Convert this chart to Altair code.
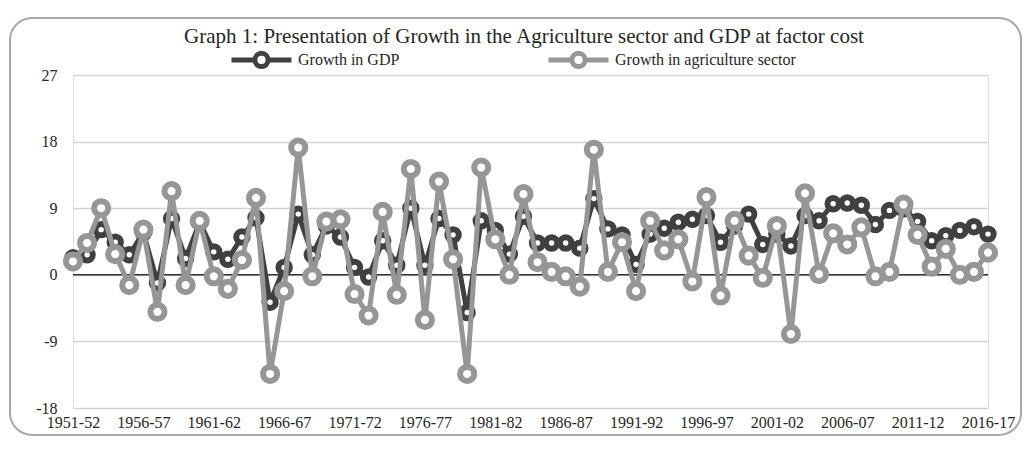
import altair as alt
import pandas as pd

# Category labels (fiscal years)
start_years = list(range(1951, 2017))
years = [f"{y}-{str(y + 1)[-2:]}" for y in start_years]
tick_labels = years[::5]

# Growth rates (%)
gdp = [2.3, 2.7, 6.1, 4.4, 2.7, 5.7, -1.1, 7.6, 2.2, 7.1,
       3.1, 2.1, 5.1, 7.7, -3.7, 1.0, 8.2, 2.7, 6.6, 5.1,
       1.0, -0.3, 4.6, 1.3, 9.0, 1.3, 7.6, 5.4, -5.1, 7.3,
       6.0, 2.8, 7.9, 4.3, 4.3, 4.3, 3.6, 10.3, 6.2, 5.4,
       1.4, 5.5, 6.3, 7.1, 7.5, 8.0, 4.4, 6.6, 8.2, 4.1,
       5.5, 3.9, 8.0, 7.3, 9.6, 9.7, 9.4, 6.8, 8.7, 8.9,
       7.2, 4.6, 5.3, 6.0, 6.5, 5.5]
agri = [1.8, 4.3, 9.0, 2.8, -1.4, 6.1, -5.0, 11.3, -1.4, 7.3,
        -0.2, -1.9, 2.0, 10.4, -13.4, -2.2, 17.2, -0.2, 7.2, 7.5,
        -2.6, -5.5, 8.5, -2.7, 14.3, -6.1, 12.6, 2.1, -13.4, 14.5,
        4.8, 0.0, 10.9, 1.7, 0.4, -0.2, -1.6, 16.9, 0.4, 4.4,
        -2.2, 7.3, 3.3, 4.8, -0.9, 10.5, -2.8, 7.3, 2.6, -0.4,
        6.6, -8.0, 11.0, 0.1, 5.6, 4.1, 6.4, -0.2, 0.4, 9.5,
        5.4, 1.1, 3.5, 0.0, 0.4, 3.0]

series_names = ["Growth in GDP", "Growth in agriculture sector"]
series_colors = ["#404040", "#969696"]
y_ticks = [-18, -9, 0, 9, 18, 27]
title_text = "Graph 1: Presentation of Growth in the Agriculture sector and GDP at factor cost"

FONT = "Liberation Serif"
TXT = "#262626"

df = pd.DataFrame({
    "year": years * 2,
    "series": [series_names[0]] * len(gdp) + [series_names[1]] * len(agri),
    "value": gdp + agri,
})

W, H = 915, 333

legend_path = ("M-1,0H-0.22 M0.22,0H1 "
               "M0.22,0A0.22,0.22 0 1,1 -0.22,0A0.22,0.22 0 1,1 0.22,0Z")

x_enc = alt.X("year:O",
              scale=alt.Scale(type="point", domain=years, padding=0),
              axis=alt.Axis(values=tick_labels, labelAngle=0, domain=False, ticks=False,
                            grid=False, title=None, labelFont=FONT, labelFontSize=16,
                            labelColor=TXT, labelPadding=6, labelOverlap=False))
y_enc = alt.Y("value:Q",
              scale=alt.Scale(domain=[-18, 27], nice=False, zero=False),
              axis=alt.Axis(values=y_ticks, domain=False, ticks=False, grid=True,
                            gridColor="#d4d4d4", gridWidth=1.3, title=None,
                            labelExpr="datum.value + ''",
                            labelFont=FONT, labelFontSize=16, labelColor=TXT,
                            labelPadding=16))
color_enc = alt.Color("series:N",
                      scale=alt.Scale(domain=series_names, range=series_colors),
                      legend=alt.Legend(title=None, orient="none", legendX=156, legendY=-48,
                                        direction="horizontal", symbolType=legend_path,
                                        symbolSize=3600, symbolStrokeWidth=5,
                                        symbolFillColor="white", labelFont=FONT,
                                        labelFontSize=16, labelColor=TXT, labelLimit=400,
                                        columnPadding=138, padding=0, labelOffset=4))

base = alt.Chart(df)

def series_layers(name, size):
    sub = base.transform_filter(alt.datum.series == name)
    line = sub.mark_line(strokeWidth=5).encode(x=x_enc, y=y_enc, color=color_enc)
    pts = sub.mark_point(filled=False, fill="white", fillOpacity=1, opacity=1,
                         size=size, strokeWidth=6, shape="circle").encode(
        x=x_enc, y=y_enc, color=color_enc)
    return [line, pts]

zero_rule = alt.Chart(pd.DataFrame({"v": [0]})).mark_rule(
    color="#333333", strokeWidth=1.6).encode(y=alt.Y("v:Q"))

frame = alt.Chart(pd.DataFrame({"v": [0]})).mark_rect(
    fill="transparent", stroke="#a8a8a8", strokeWidth=2, cornerRadius=22).encode(
    x=alt.value(-63), x2=alt.value(948), y=alt.value(-57), y2=alt.value(360))

title_mark = alt.Chart(pd.DataFrame({"t": [title_text]})).mark_text(
    font=FONT, fontSize=21, color=TXT, align="center", baseline="middle").encode(
    text="t:N", x=alt.value(451), y=alt.value(-38))

layers = [frame, zero_rule] + series_layers(series_names[0], 130) + \
    series_layers(series_names[1], 200) + [title_mark]

chart = alt.layer(*layers).properties(
    width=W, height=H,
    autosize=alt.AutoSizeParams(type="none"),
    padding={"left": 65, "top": 67, "right": 34, "bottom": 30},
).configure_view(stroke=None).configure(background="white")

chart.save("out.html", embed_options={"renderer": "svg", "actions": False})
